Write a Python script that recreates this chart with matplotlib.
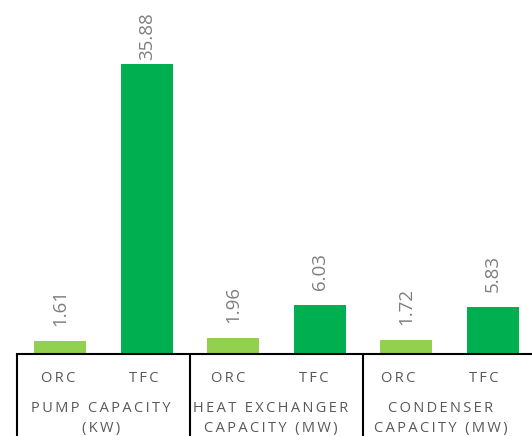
import matplotlib
matplotlib.use("Agg")
import matplotlib.pyplot as plt
from matplotlib.transforms import offset_copy

# ---- data ----
groups = [["PUMP CAPACITY", "(KW)"],
          ["HEAT EXCHANGER", "CAPACITY (MW)"],
          ["CONDENSER", "CAPACITY (MW)"]]
cycles = ["ORC", "TFC"]
orc_values = [1.61, 1.96, 1.72]
tfc_values = [35.88, 6.03, 5.83]

ORC_COLOR = "#92D050"
TFC_COLOR = "#00B050"
LABEL_GRAY = "#595959"
VALUE_GRAY = "#7F7F7F"
FONTS = ["Open Sans", "DejaVu Sans"]

W, H, DPI = 532, 436, 100
fig = plt.figure(figsize=(W / DPI, H / DPI), dpi=DPI)

# bars: ORC / TFC pairs for each group
values, colors, names = [], [], []
for o, t in zip(orc_values, tfc_values):
    values += [o, t]
    colors += [ORC_COLOR, TFC_COLOR]
    names += cycles
xpos = list(range(len(values)))

ax = fig.add_axes([17 / W, 82 / H, 519 / W, 323 / H])
ax.bar(xpos, values, width=0.6, color=colors, zorder=2)
ax.set_xlim(-0.5, len(values) - 0.5)
ax.set_ylim(0, 40)
for side in ("top", "left", "right"):
    ax.spines[side].set_visible(False)
ax.spines["bottom"].set_linewidth(1.5)
ax.spines["bottom"].set_color("black")
ax.set_xticks([])
ax.set_yticks([])

# rotated data labels, anchored by their top end above each bar
lab_tr = offset_copy(ax.transData, fig=fig, x=0, y=52, units="dots")
for x, v in zip(xpos, values):
    ax.text(x, v, f"{v:.2f}", rotation=90, ha="center", va="top",
            transform=lab_tr, fontsize=13.5, color=VALUE_GRAY, family=FONTS)

# group separators of the two-level category axis
xt = ax.get_xaxis_transform()
for g in range(len(groups) + 1):
    sx = g * 2 - 0.5
    ax.plot([sx, sx], [0, -0.4], transform=xt, clip_on=False,
            color="black", lw=1.5, solid_capstyle="butt")

# category label band
lab = fig.add_axes([16 / W, 0, 510 / W, 82 / H])
lab.set_xlim(-0.5, len(values) - 0.5)
lab.set_ylim(0, 82)
lab.axis("off")


def spaced(s):
    """Letter-spaced caption: thin space between every character."""
    return "\u2009".join(s)


label_kw = dict(ha="center", va="center", fontsize=10.5,
                color=LABEL_GRAY, family=FONTS)
for x, n in zip(xpos, names):
    lab.text(x, 58, spaced(n), **label_kw)
for g, lines in enumerate(groups):
    gx = g * 2 + 0.5
    lab.text(gx, 28, spaced(lines[0]), **label_kw)
    lab.text(gx, 8, spaced(lines[1]), **label_kw)

fig.savefig("out.png", dpi=DPI)
